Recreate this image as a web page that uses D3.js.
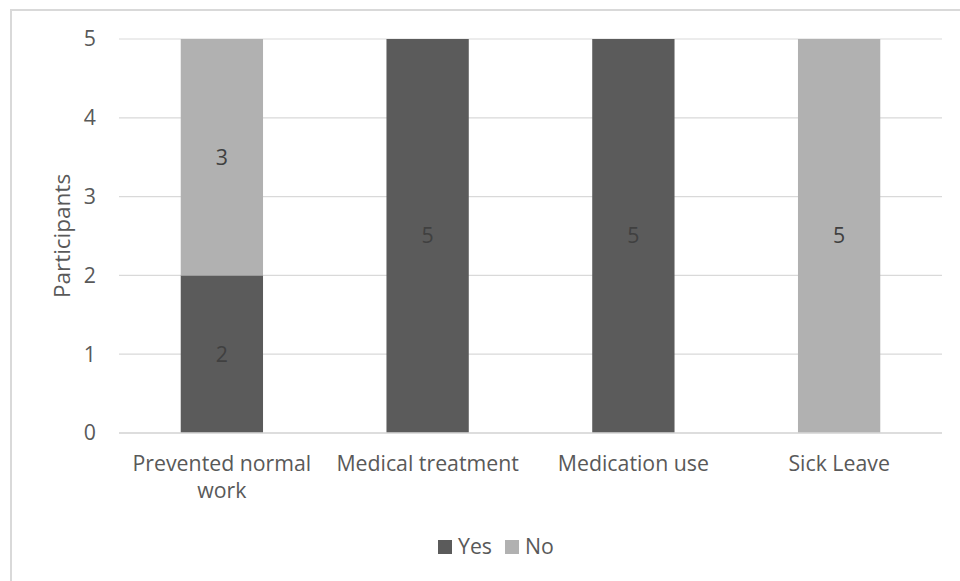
<!DOCTYPE html>
<html>
<head>
<meta charset="utf-8">
<script src="https://cdn.jsdelivr.net/npm/d3@7"></script>
<style>
  html, body { margin: 0; padding: 0; background: #fff; }
  svg { display: block; font-family: "Open Sans", "Liberation Sans", sans-serif; }
</style>
</head>
<body>
<svg id="chart" width="960" height="581"></svg>
<script>
// Participant responses per outcome
const categories = ["Prevented normal work", "Medical treatment", "Medication use", "Sick Leave"];
const yesValues = [2, 5, 5, 0];
const noValues = [3, 0, 0, 5];
const seriesNames = ["Yes", "No"];
const yTicks = [0, 1, 2, 3, 4, 5];

const colors = { Yes: "#5b5b5b", No: "#b1b1b1" };
const textColor = "#595959";
const gridColor = "#d9d9d9";
const fontSize = 21.3;

const svg = d3.select("#chart");
const plot = { left: 119, right: 942, top: 39, bottom: 433 };

// Outer chart frame
svg.append("rect")
  .attr("x", 11).attr("y", 10)
  .attr("width", 980).attr("height", 600)
  .attr("fill", "#fff")
  .attr("stroke", gridColor).attr("stroke-width", 2);

const x = d3.scaleBand()
  .domain(categories)
  .range([plot.left, plot.right])
  .paddingInner(0.6).paddingOuter(0.3);

const y = d3.scaleLinear()
  .domain([0, 5])
  .range([plot.bottom, plot.top]);

// Gridlines
svg.append("g")
  .selectAll("line")
  .data(yTicks)
  .join("line")
  .attr("x1", plot.left).attr("x2", plot.right)
  .attr("y1", d => y(d)).attr("y2", d => y(d))
  .attr("stroke", gridColor).attr("stroke-width", 1.2);

// Stacked bars
const rows = categories.map((c, i) => ({ category: c, Yes: yesValues[i], No: noValues[i] }));
const stacked = d3.stack().keys(seriesNames)(rows);

const layers = svg.append("g")
  .selectAll("g")
  .data(stacked)
  .join("g")
  .attr("fill", d => colors[d.key]);

layers.selectAll("rect")
  .data(d => d.filter(s => s[1] - s[0] > 0))
  .join("rect")
  .attr("x", d => x(d.data.category))
  .attr("width", x.bandwidth())
  .attr("y", d => y(d[1]))
  .attr("height", d => y(d[0]) - y(d[1]));

// Value labels in segment centres
layers.selectAll("text")
  .data(d => d.filter(s => s[1] - s[0] > 0))
  .join("text")
  .attr("x", d => x(d.data.category) + x.bandwidth() / 2)
  .attr("y", d => (y(d[0]) + y(d[1])) / 2)
  .attr("dy", "0.35em")
  .attr("text-anchor", "middle")
  .attr("fill", "#404040")
  .attr("font-size", fontSize)
  .text(d => d[1] - d[0]);

// Zero baseline
svg.append("line")
  .attr("x1", plot.left).attr("x2", plot.right)
  .attr("y1", y(0)).attr("y2", y(0))
  .attr("stroke", gridColor).attr("stroke-width", 1.5);

// Y axis tick labels
const yAxis = d3.axisLeft(y).tickValues(yTicks).tickFormat(d3.format("d")).tickSize(0).tickPadding(0);
const gy = svg.append("g")
  .attr("transform", `translate(${plot.left - 23},0)`)
  .call(yAxis);
gy.select(".domain").remove();
gy.selectAll("text")
  .attr("fill", textColor)
  .attr("font-size", fontSize)
  .attr("font-family", "Open Sans, sans-serif");

// X axis category labels, wrapped to band width
const xAxis = d3.axisBottom(x).tickSize(0).tickPadding(0);
const gx = svg.append("g")
  .attr("transform", `translate(0,${plot.bottom + 23})`)
  .call(xAxis);
gx.select(".domain").remove();
gx.selectAll("text")
  .attr("fill", textColor)
  .attr("font-size", fontSize)
  .attr("font-family", "Open Sans, sans-serif")
  .each(function(d) {
    const t = d3.select(this);
    const maxW = 195;
    const words = d.split(" ");
    t.text(null);
    let line = [];
    let tspan = t.append("tspan").attr("x", 0).attr("dy", "0.71em");
    for (const w of words) {
      line.push(w);
      tspan.text(line.join(" "));
      if (tspan.node().getComputedTextLength() > maxW && line.length > 1) {
        line.pop();
        tspan.text(line.join(" "));
        line = [w];
        tspan = t.append("tspan").attr("x", 0).attr("dy", "1.27em").text(w);
      }
    }
  });

// Y axis title
svg.append("text")
  .attr("transform", `translate(62,${(plot.top + plot.bottom) / 2}) rotate(-90)`)
  .attr("text-anchor", "middle")
  .attr("dy", "0.35em")
  .attr("fill", textColor)
  .attr("font-size", 22.5)
  .text("Participants");

// Legend
const legend = svg.append("g").attr("transform", "translate(438,540)");
const items = legend.selectAll("g")
  .data(seriesNames)
  .join("g")
  .attr("transform", (d, i) => `translate(${i * 67},0)`);
items.append("rect")
  .attr("width", 14).attr("height", 14)
  .attr("fill", d => colors[d]);
items.append("text")
  .attr("x", 20).attr("y", 7)
  .attr("dy", "0.35em")
  .attr("fill", textColor)
  .attr("font-size", fontSize)
  .text(d => d);
</script>
</body>
</html>
